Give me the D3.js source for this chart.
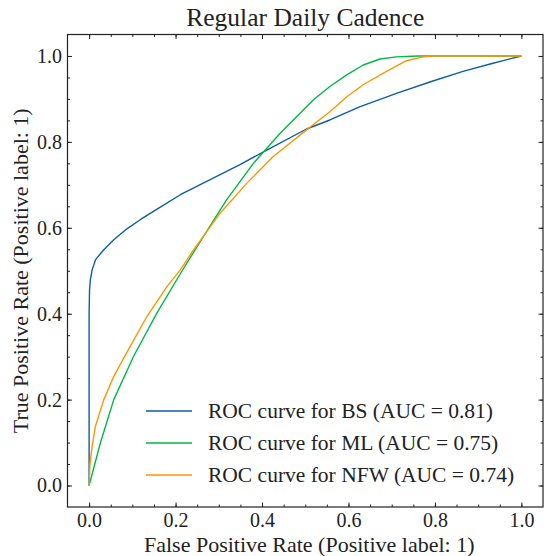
<!DOCTYPE html>
<html>
<head>
<meta charset="utf-8">
<script src="https://cdn.jsdelivr.net/npm/d3@7"></script>
<style>
  html, body { margin: 0; padding: 0; background: #fff; }
  svg text { font-family: "Liberation Serif", "Times New Roman", serif; fill: #222; }
</style>
</head>
<body>
<svg id="chart" width="544" height="556"></svg>
<script>
// ---- Data ----
const seriesNames = ["ROC curve for BS (AUC = 0.81)", "ROC curve for ML (AUC = 0.75)", "ROC curve for NFW (AUC = 0.74)"];
const bsFpr = [0, 0, 0.001, 0.003, 0.007, 0.015, 0.034, 0.057, 0.084, 0.12, 0.16, 0.211, 0.28, 0.349, 0.411, 0.503, 0.557, 0.627, 0.711, 0.79, 0.865, 0.93, 1.0];
const bsTpr = [0, 0.40, 0.456, 0.48, 0.502, 0.526, 0.549, 0.572, 0.595, 0.62, 0.645, 0.677, 0.712, 0.747, 0.781, 0.830, 0.851, 0.882, 0.913, 0.94, 0.964, 0.982, 1.0];
const mlFpr = [0, 0.026, 0.057, 0.103, 0.157, 0.211, 0.257, 0.318, 0.380, 0.442, 0.519, 0.557, 0.596, 0.634, 0.673, 0.711, 0.76, 1.0];
const mlTpr = [0, 0.099, 0.2, 0.301, 0.402, 0.493, 0.568, 0.665, 0.750, 0.820, 0.898, 0.929, 0.956, 0.979, 0.993, 0.998, 1.0, 1.0];
const nfwFpr = [0, 0.002, 0.007, 0.0146, 0.034, 0.057, 0.095, 0.134, 0.180, 0.211, 0.242, 0.303, 0.365, 0.426, 0.503, 0.557, 0.596, 0.634, 0.688, 0.734, 0.773, 0.79, 1.0];
const nfwTpr = [0, 0.05, 0.091, 0.138, 0.2, 0.254, 0.324, 0.394, 0.463, 0.502, 0.549, 0.634, 0.704, 0.766, 0.828, 0.870, 0.905, 0.933, 0.964, 0.989, 0.998, 1.0, 1.0];
const majorTicks = [0.0, 0.2, 0.4, 0.6, 0.8, 1.0];
const minorTicks = d3.range(0, 21).map(i => i * 0.05);
const colors = ["#0C5DA5", "#00B945", "#FF9500"];
const titleText = "Regular Daily Cadence";
const xLabelText = "False Positive Rate (Positive label: 1)";
const yLabelText = "True Positive Rate (Positive label: 1)";

// ---- Layout ----
const svg = d3.select("#chart");
const L = 67.5, R = 543, T = 34.5, B = 507;
const x = d3.scaleLinear().domain([-0.05, 1.05]).range([L, R]);
const y = d3.scaleLinear().domain([-0.05, 1.05]).range([B, T]);

const series = [
  { name: seriesNames[0], fpr: bsFpr, tpr: bsTpr, color: colors[0] },
  { name: seriesNames[1], fpr: mlFpr, tpr: mlTpr, color: colors[1] },
  { name: seriesNames[2], fpr: nfwFpr, tpr: nfwTpr, color: colors[2] }
];

const plot = svg.append("g");
svg.append("clipPath").attr("id", "clip").append("rect")
  .attr("x", L).attr("y", T).attr("width", R - L).attr("height", B - T);

const line = d3.line().x(d => x(d[0])).y(d => y(d[1]));
series.forEach(s => {
  plot.append("path")
    .datum(s.fpr.map((f, i) => [f, s.tpr[i]]))
    .attr("d", line)
    .attr("fill", "none")
    .attr("stroke", s.color)
    .attr("stroke-width", 1.4)
    .attr("stroke-linejoin", "round")
    .attr("clip-path", "url(#clip)");
});

// ---- Axes (ticks inward on all four sides) ----
const fmt = d3.format(".1f");
function styleAxis(g) {
  g.select(".domain").remove();
  g.selectAll(".tick line").attr("stroke", "#222").attr("stroke-width", 1);
}
// bottom
svg.append("g").attr("transform", `translate(0,${B})`)
  .call(d3.axisBottom(x).tickValues(majorTicks).tickFormat(fmt).tickSizeInner(-4.5).tickSizeOuter(0).tickPadding(6))
  .call(styleAxis)
  .call(g => g.selectAll("text").attr("font-size", 20).attr("fill", "#222"));
svg.append("g").attr("transform", `translate(0,${B})`)
  .call(d3.axisBottom(x).tickValues(minorTicks).tickFormat("").tickSizeInner(-2.5).tickSizeOuter(0))
  .call(styleAxis);
// top
svg.append("g").attr("transform", `translate(0,${T})`)
  .call(d3.axisTop(x).tickValues(majorTicks).tickFormat("").tickSizeInner(-4.5).tickSizeOuter(0))
  .call(styleAxis);
svg.append("g").attr("transform", `translate(0,${T})`)
  .call(d3.axisTop(x).tickValues(minorTicks).tickFormat("").tickSizeInner(-2.5).tickSizeOuter(0))
  .call(styleAxis);
// left
svg.append("g").attr("transform", `translate(${L},0)`)
  .call(d3.axisLeft(y).tickValues(majorTicks).tickFormat(fmt).tickSizeInner(-4.5).tickSizeOuter(0).tickPadding(5.5))
  .call(styleAxis)
  .call(g => g.selectAll("text").attr("font-size", 20).attr("fill", "#222"));
svg.append("g").attr("transform", `translate(${L},0)`)
  .call(d3.axisLeft(y).tickValues(minorTicks).tickFormat("").tickSizeInner(-2.5).tickSizeOuter(0))
  .call(styleAxis);
// right
svg.append("g").attr("transform", `translate(${R},0)`)
  .call(d3.axisRight(y).tickValues(majorTicks).tickFormat("").tickSizeInner(-4.5).tickSizeOuter(0))
  .call(styleAxis);
svg.append("g").attr("transform", `translate(${R},0)`)
  .call(d3.axisRight(y).tickValues(minorTicks).tickFormat("").tickSizeInner(-2.5).tickSizeOuter(0))
  .call(styleAxis);

// frame
svg.append("rect").attr("x", L).attr("y", T).attr("width", R - L).attr("height", B - T)
  .attr("fill", "none").attr("stroke", "#222").attr("stroke-width", 1.2);

// ---- Title and labels ----
svg.append("text").attr("x", (L + R) / 2).attr("y", 26).attr("text-anchor", "middle")
  .attr("font-size", 25.5).text(titleText);
svg.append("text").attr("x", (L + R) / 2 + 4).attr("y", 551.5).attr("text-anchor", "middle")
  .attr("font-size", 22).text(xLabelText);
svg.append("text").attr("transform", `translate(28,${(T + B) / 2}) rotate(-90)`).attr("text-anchor", "middle")
  .attr("font-size", 22).text(yLabelText);

// ---- Legend ----
const leg = svg.append("g");
series.forEach((s, i) => {
  const yy = 411 + i * 32;
  leg.append("line").attr("x1", 146).attr("x2", 192).attr("y1", yy).attr("y2", yy)
    .attr("stroke", s.color).attr("stroke-width", 1.4);
  leg.append("text").attr("x", 208).attr("y", yy + 7).attr("font-size", 21.5).text(s.name);
});
</script>
</body>
</html>
